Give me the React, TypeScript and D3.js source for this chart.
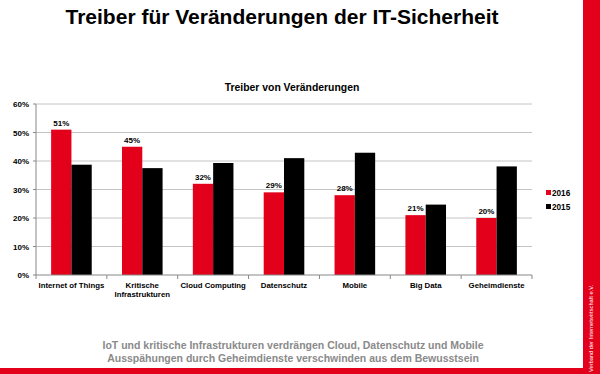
import React from "react";
import * as d3 from "d3";

const categories = [
  ["Internet of Things"],
  ["Kritische", "Infrastrukturen"],
  ["Cloud Computing"],
  ["Datenschutz"],
  ["Mobile"],
  ["Big Data"],
  ["Geheimdienste"],
];
const series = ["2016", "2015"];
const values2016 = [51, 45, 32, 29, 28, 21, 20];
const values2015 = [38.7, 37.5, 39.3, 41, 42.9, 24.7, 38.1];
const yTicks = [0, 10, 20, 30, 40, 50, 60];
const title = "Treiber für Veränderungen der IT-Sicherheit";
const chartTitle = "Treiber von Veränderungen";
const footer = [
  "IoT und kritische Infrastrukturen verdrängen Cloud, Datenschutz und Mobile",
  "Ausspähungen durch Geheimdienste verschwinden aus dem Bewusstsein",
];
const sideText = "Verband der Internetwirtschaft e.V.";

const RED = "#e2001a";
const FONT = "'Liberation Sans', Arial, Helvetica, sans-serif";

export default function App() {
  const W = 600,
    H = 374;
  const left = 36,
    right = 532,
    top = 104,
    bottom = 275;
  const keys = categories.map((c) => c.join(" "));
  const x0 = d3
    .scaleBand<string>()
    .domain(keys)
    .range([left, right])
    .paddingInner(0.427)
    .paddingOuter(0.2135);
  const x1 = d3.scaleBand<string>().domain(series).range([0, x0.bandwidth()]).padding(0);
  const y = d3.scaleLinear().domain([0, 60]).range([bottom, top]);
  const step = x0.step();
  const data = [values2016, values2015];
  const colors = [RED, "#000000"];

  return (
    <svg
      width={W}
      height={H}
      style={{ position: "absolute", left: 0, top: 0, background: "#fff" }}
      fontFamily={FONT}
    >
      <rect x={0} y={0} width={W} height={H} fill="#fff" />
      <text x={282} y={23.5} textAnchor="middle" fontSize={21} fontWeight="bold" fill="#000">
        {title}
      </text>
      <text x={292} y={91} textAnchor="middle" fontSize={10.4} fontWeight="bold" fill="#000">
        {chartTitle}
      </text>
      {/* gridlines */}
      {yTicks.map((t) => (
        <g key={t}>
          {t > 0 && (
            <line x1={left} x2={right} y1={y(t)} y2={y(t)} stroke="#c4c4c4" strokeWidth={1} />
          )}
          <line x1={left - 3} x2={left} y1={y(t)} y2={y(t)} stroke="#888" strokeWidth={1} />
          <text x={29} y={y(t) + 3} textAnchor="end" fontSize={8} fontWeight="bold" fill="#000">
            {t}%
          </text>
        </g>
      ))}
      {/* bars */}
      {keys.map((k, i) => (
        <g key={k} transform={`translate(${x0(k)},0)`}>
          {series.map((s, j) => (
            <rect
              key={s}
              x={x1(s)}
              y={y(data[j][i])}
              width={x1.bandwidth()}
              height={bottom - y(data[j][i])}
              fill={colors[j]}
            />
          ))}
          <text
            x={(x1("2016") as number) + x1.bandwidth() / 2}
            y={y(values2016[i]) - 4}
            textAnchor="middle"
            fontSize={8}
            fontWeight="bold"
            fill="#000"
          >
            {values2016[i]}%
          </text>
        </g>
      ))}
      {/* axes */}
      <line x1={left} x2={left} y1={top} y2={bottom} stroke="#888" strokeWidth={1} />
      <line x1={left} x2={right} y1={bottom} y2={bottom} stroke="#888" strokeWidth={1} />
      {d3.range(categories.length + 1).map((i) => (
        <line
          key={i}
          x1={left + i * step}
          x2={left + i * step}
          y1={bottom}
          y2={bottom + 4}
          stroke="#888"
          strokeWidth={1}
        />
      ))}
      {categories.map((c, i) => (
        <text
          key={i}
          x={(x0(keys[i]) as number) + x0.bandwidth() / 2}
          y={288}
          textAnchor="middle"
          fontSize={7.8}
          fontWeight="bold"
          fill="#000"
        >
          {c.map((line, li) => (
            <tspan key={li} x={(x0(keys[i]) as number) + x0.bandwidth() / 2} dy={li === 0 ? 0 : 9.4}>
              {line}
            </tspan>
          ))}
        </text>
      ))}
      {/* legend */}
      {series.map((s, j) => (
        <g key={s} transform={`translate(546, ${190 + j * 14})`}>
          <rect x={0} y={0} width={5} height={5} fill={colors[j]} />
          <text x={6} y={5.5} fontSize={8.2} fontWeight="bold" fill="#000">
            {s}
          </text>
        </g>
      ))}
      {/* footer */}
      {footer.map((f, i) => (
        <text
          key={i}
          x={293}
          y={349 + i * 13}
          textAnchor="middle"
          fontSize={10.5}
          fontWeight="bold"
          fill="#8a8a8a"
        >
          {f}
        </text>
      ))}
      <rect x={0} y={368} width={W} height={H - 368} fill={RED} />
      <rect x={583} y={0} width={W - 583} height={H} fill={RED} />
      <text
        transform={`translate(592.5, 372) rotate(-90)`}
        fontSize={5.7}
        fill="#fff"
      >
        {sideText}
      </text>
    </svg>
  );
}
